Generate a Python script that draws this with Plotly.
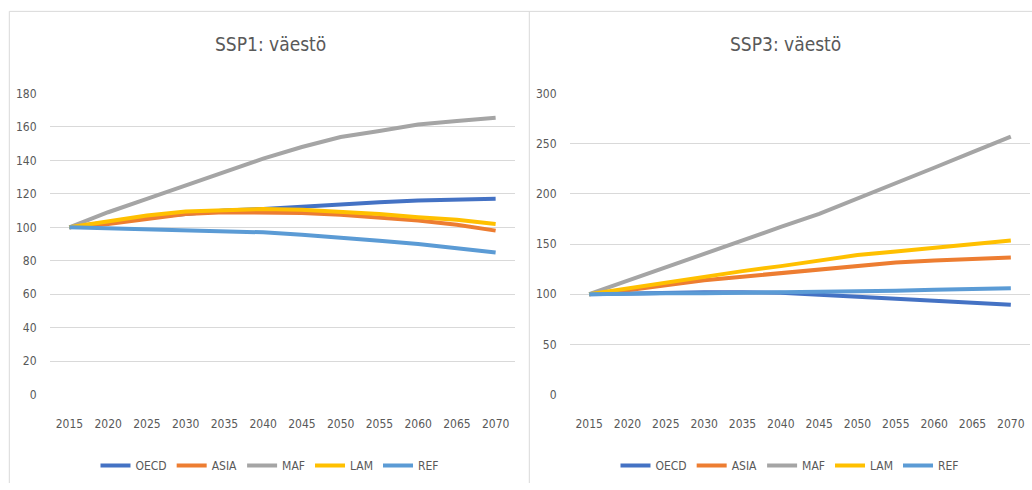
import plotly.graph_objects as go

years = ["2015", "2020", "2025", "2030", "2035", "2040", "2045", "2050", "2055", "2060", "2065", "2070"]
series_names = ["OECD", "ASIA", "MAF", "LAM", "REF"]
colors = ["#4472C4", "#ED7D31", "#A5A5A5", "#FFC000", "#5B9BD5"]

ssp1_oecd = [100, 103, 106, 108, 110, 111, 112.5, 114, 115, 116, 116.5, 117]
ssp1_asia = [100, 102, 105, 108, 109, 109, 108.5, 107.5, 106, 104, 101.5, 98]
ssp1_maf = [100, 109, 117, 125, 133, 141, 148, 154, 157.5, 161.5, 163.5, 165.5]
ssp1_lam = [100, 103.5, 107, 109.5, 110.5, 111, 110.5, 109.5, 108, 106, 104.5, 102]
ssp1_ref = [100, 99.5, 99, 98, 98, 97, 95.5, 94, 92, 90, 87.5, 85]

ssp3_oecd = [100, 101, 101.5, 102, 102, 101.5, 99.5, 97.5, 95.5, 93.5, 92, 89.5]
ssp3_asia = [100, 104, 109, 114, 117.5, 121, 124, 128, 131.5, 133.5, 135, 136.5]
ssp3_maf = [100, 113.5, 127, 141, 154.5, 167, 180, 195, 211, 226, 241.5, 257]
ssp3_lam = [100, 106, 112, 118, 123, 128, 134, 139, 142.5, 146, 150, 153.5]
ssp3_ref = [100, 101, 101, 101, 101.5, 101.5, 102, 103, 103.5, 104.5, 105, 106]

titles = ["SSP1: väestö", "SSP3: väestö"]

ssp1 = [ssp1_oecd, ssp1_asia, ssp1_maf, ssp1_lam, ssp1_ref]
ssp3 = [ssp3_oecd, ssp3_asia, ssp3_maf, ssp3_lam, ssp3_ref]

W, H = 1032, 490
FONT = "DejaVu Sans Condensed, Liberation Sans Narrow, sans-serif"
TXT = "#595959"
GRID = "#D9D9D9"

fig = go.Figure()

for name, col, vals in zip(series_names, colors, ssp1):
    fig.add_trace(go.Scatter(x=years, y=vals, name=name, mode="lines",
                             line=dict(color=col, width=4),
                             xaxis="x", yaxis="y", legend="legend"))
for name, col, vals in zip(series_names, colors, ssp3):
    fig.add_trace(go.Scatter(x=years, y=vals, name=name, mode="lines",
                             line=dict(color=col, width=4),
                             xaxis="x2", yaxis="y2", legend="legend2"))

# vertical pixel positions (from top of page)
PLOT_TOP, PLOT_BOTTOM = 89, 399
ydom = [(H - PLOT_BOTTOM) / H, (H - PLOT_TOP) / H]

axis_common = dict(showline=False, zeroline=False,
                   tickfont=dict(family=FONT, size=12, color=TXT),
                   ticks="outside", tickcolor="rgba(0,0,0,0)")

fig.update_layout(
    width=W, height=H,
    margin=dict(l=0, r=0, t=0, b=0),
    paper_bgcolor="white", plot_bgcolor="white",
    xaxis=dict(domain=[50 / W, 515 / W], anchor="y", type="category",
               range=[-0.5, 11.5], ticklen=18, showgrid=False, **axis_common),
    yaxis=dict(domain=ydom, anchor="x", range=[0, 180], dtick=20,
               ticklen=10, showgrid=True, gridcolor=GRID, gridwidth=1, **axis_common),
    xaxis2=dict(domain=[570 / W, 1030 / W], anchor="y2", type="category",
                range=[-0.5, 11.5], ticklen=18, showgrid=False, **axis_common),
    yaxis2=dict(domain=ydom, anchor="x2", range=[0, 300], dtick=50,
                ticklen=10, showgrid=True, gridcolor=GRID, gridwidth=1, **axis_common),
    legend=dict(orientation="h", x=270 / W, y=(H - 472) / H,
                xanchor="center", yanchor="middle", itemwidth=30,
                font=dict(family=FONT, size=12, color=TXT),
                bgcolor="rgba(0,0,0,0)", tracegroupgap=0),
    legend2=dict(orientation="h", x=790 / W, y=(H - 472) / H,
                 xanchor="center", yanchor="middle", itemwidth=30,
                 font=dict(family=FONT, size=12, color=TXT),
                 bgcolor="rgba(0,0,0,0)", tracegroupgap=0),
    showlegend=True,
)

fig.add_annotation(text=titles[0], x=270 / W, y=(H - 38) / H, xref="paper", yref="paper",
                   showarrow=False, font=dict(family=FONT, size=19, color=TXT),
                   xanchor="center", yanchor="middle")
fig.add_annotation(text=titles[1], x=785 / W, y=(H - 38) / H, xref="paper", yref="paper",
                   showarrow=False, font=dict(family=FONT, size=19, color=TXT),
                   xanchor="center", yanchor="middle")

# panel borders
top = 1 - 4.5 / H
fig.add_shape(type="line", xref="paper", yref="paper", x0=9.3 / W, x1=1, y0=top, y1=top,
              line=dict(color=GRID, width=1))
fig.add_shape(type="line", xref="paper", yref="paper", x0=9.3 / W, x1=9.3 / W, y0=0, y1=top,
              line=dict(color=GRID, width=1))
fig.add_shape(type="line", xref="paper", yref="paper", x0=529.3 / W, x1=529.3 / W, y0=0, y1=top,
              line=dict(color=GRID, width=1))

fig.write_html(
    "out.html",
    config={"displayModeBar": False},
    post_script="document.body.style.margin='0';document.body.style.padding='0';"
                "document.body.style.overflow='hidden';",
)
